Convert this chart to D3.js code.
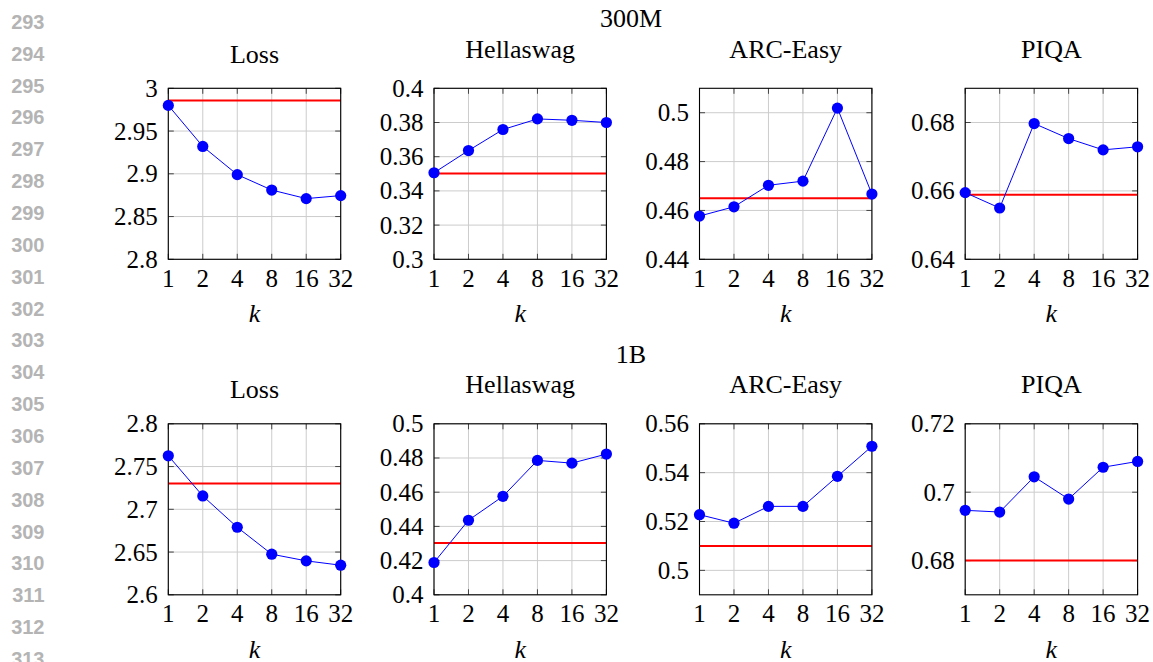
<!DOCTYPE html>
<html><head><meta charset="utf-8">
<script src="https://cdn.jsdelivr.net/npm/d3@7"></script>
<style>body{margin:0;background:#fff}svg{display:block}</style>
</head><body><svg id="c" width="1153" height="662"></svg>
<script>
// ---- data ----
const kValues = [1, 2, 4, 8, 16, 32];
const kLabels = ["1", "2", "4", "8", "16", "32"];
const rowTitles = ["300M", "1B"];
const panelTitles = ["Loss", "Hellaswag", "ARC-Easy", "PIQA"];
const lineNumbers = ["293","294","295","296","297","298","299","300","301","302","303","304","305","306","307","308","309","310","311","312","313"];

// 300M
const loss300M = [2.980, 2.932, 2.899, 2.881, 2.871, 2.8745];
const hella300M = [0.3506, 0.3636, 0.3759, 0.3821, 0.3813, 0.3800];
const arc300M = [0.4577, 0.4615, 0.4703, 0.4720, 0.5019, 0.4667];
const piqa300M = [0.6595, 0.6550, 0.6797, 0.6753, 0.6720, 0.6729];
const baseline300M = [2.9856, 0.3502, 0.4650, 0.6589];
// 1B
const loss1B = [2.7626, 2.7156, 2.6790, 2.6475, 2.6397, 2.6346];
const hella1B = [0.4189, 0.4436, 0.4576, 0.4786, 0.4770, 0.4823];
const arc1B = [0.5228, 0.5193, 0.5262, 0.5262, 0.5385, 0.5508];
const piqa1B = [0.6947, 0.6942, 0.7045, 0.6980, 0.7073, 0.7090];
const baseline1B = [2.7303, 0.4303, 0.5100, 0.6800];

// axis ranges and ticks
const domains300M = [[2.8, 3.0], [0.3, 0.4], [0.44, 0.51], [0.64, 0.69]];
const domains1B = [[2.6, 2.8], [0.4, 0.5], [0.49, 0.56], [0.67, 0.72]];
const ticks300M = [
  [2.8, 2.85, 2.9, 2.95, 3.0],
  [0.3, 0.32, 0.34, 0.36, 0.38, 0.4],
  [0.44, 0.46, 0.48, 0.5],
  [0.64, 0.66, 0.68]
];
const tickLabels300M = [
  ["2.8", "2.85", "2.9", "2.95", "3"],
  ["0.3", "0.32", "0.34", "0.36", "0.38", "0.4"],
  ["0.44", "0.46", "0.48", "0.5"],
  ["0.64", "0.66", "0.68"]
];
const ticks1B = [
  [2.6, 2.65, 2.7, 2.75, 2.8],
  [0.4, 0.42, 0.44, 0.46, 0.48, 0.5],
  [0.5, 0.52, 0.54, 0.56],
  [0.68, 0.7, 0.72]
];
const tickLabels1B = [
  ["2.6", "2.65", "2.7", "2.75", "2.8"],
  ["0.4", "0.42", "0.44", "0.46", "0.48", "0.5"],
  ["0.5", "0.52", "0.54", "0.56"],
  ["0.68", "0.7", "0.72"]
];

const rows = [
  {title: rowTitles[0], series: [loss300M, hella300M, arc300M, piqa300M], base: baseline300M, domains: domains300M, ticks: ticks300M, labels: tickLabels300M},
  {title: rowTitles[1], series: [loss1B, hella1B, arc1B, piqa1B], base: baseline1B, domains: domains1B, ticks: ticks1B, labels: tickLabels1B}
];

// ---- layout ----
const svg = d3.select("#c");
const panelX = [168.3, 434.0, 699.5, 965.2];
const panelW = 172.4, panelH = 171;
const rowY = [88.3, 423.8];
const serif = "'Liberation Serif','Times New Roman',serif";
const titleHasDesc = [false, true, true, true];

// line numbers
const lnY = d3.scaleLinear().domain([0, 20]).range([21.7, 658.7]);
svg.append("g").selectAll("text").data(lineNumbers).join("text")
  .attr("x", 44.5).attr("y", (d, i) => lnY(i)).attr("dy", "0.36em")
  .attr("text-anchor", "end")
  .style("font-family", "'Liberation Sans',Arial,sans-serif")
  .style("font-weight", "bold").style("font-size", "20px")
  .style("fill", "#b4b4b4").text(d => d);

rows.forEach((row, ri) => {
  const top = rowY[ri];
  svg.append("text").attr("x", 631).attr("y", top - 61)
    .attr("text-anchor", "middle").style("font-family", serif).style("font-size", "26px")
    .text(row.title);

  row.series.forEach((vals, pi) => {
    const x0 = panelX[pi];
    const g = svg.append("g").attr("transform", `translate(${x0},${top})`);
    const x = d3.scaleLog().base(2).domain([1, 32]).range([0, panelW]);
    const y = d3.scaleLinear().domain(row.domains[pi]).range([panelH, 0]);
    const yt = row.ticks[pi];

    // grid
    g.append("g").selectAll("line").data(kValues).join("line")
      .attr("x1", d => x(d)).attr("x2", d => x(d)).attr("y1", 0).attr("y2", panelH)
      .attr("stroke", "#cccccc").attr("stroke-width", 1);
    g.append("g").selectAll("line").data(yt).join("line")
      .attr("x1", 0).attr("x2", panelW).attr("y1", d => y(d)).attr("y2", d => y(d))
      .attr("stroke", "#cccccc").attr("stroke-width", 1);

    // inner tick marks
    const tl = 5.5;
    const tk = g.append("g").attr("stroke", "#444").attr("stroke-width", 1);
    kValues.forEach(d => {
      tk.append("line").attr("x1", x(d)).attr("x2", x(d)).attr("y1", panelH).attr("y2", panelH - tl);
      tk.append("line").attr("x1", x(d)).attr("x2", x(d)).attr("y1", 0).attr("y2", tl);
    });
    yt.forEach(d => {
      tk.append("line").attr("x1", 0).attr("x2", tl).attr("y1", y(d)).attr("y2", y(d));
      tk.append("line").attr("x1", panelW).attr("x2", panelW - tl).attr("y1", y(d)).attr("y2", y(d));
    });

    // baseline (red)
    g.append("line").attr("x1", 0).attr("x2", panelW)
      .attr("y1", y(row.base[pi])).attr("y2", y(row.base[pi]))
      .attr("stroke", "#ff0000").attr("stroke-width", 2);

    // frame
    g.append("rect").attr("x", 0).attr("y", 0).attr("width", panelW).attr("height", panelH)
      .attr("fill", "none").attr("stroke", "#000").attr("stroke-width", 1.1);

    // series line and markers
    const pts = kValues.map((k, i) => [k, vals[i]]);
    g.append("path").datum(pts)
      .attr("d", d3.line().x(d => x(d[0])).y(d => y(d[1])))
      .attr("fill", "none").attr("stroke", "#0000ff").attr("stroke-width", 1);
    g.append("g").selectAll("circle").data(pts).join("circle")
      .attr("cx", d => x(d[0])).attr("cy", d => y(d[1])).attr("r", 5.6)
      .attr("fill", "#0000ff");

    // y tick labels
    g.append("g").selectAll("text").data(yt).join("text")
      .attr("x", -10.5).attr("y", d => y(d)).attr("dy", "0.34em")
      .attr("text-anchor", "end").style("font-family", serif).style("font-size", "25px")
      .text((d, i) => row.labels[pi][i]);
    // x tick labels
    g.append("g").selectAll("text").data(kValues).join("text")
      .attr("x", d => x(d)).attr("y", panelH + 27.5)
      .attr("text-anchor", "middle").style("font-family", serif).style("font-size", "25px")
      .text((d, i) => kLabels[i]);
    // x axis label
    g.append("text").attr("x", panelW / 2).attr("y", panelH + 63)
      .attr("text-anchor", "middle").style("font-family", serif).style("font-style", "italic")
      .style("font-size", "26px").text("k");
    // title
    g.append("text").attr("x", panelW / 2).attr("y", titleHasDesc[pi] ? -30.5 : -25.5)
      .attr("text-anchor", "middle").style("font-family", serif).style("font-size", "26px")
      .text(panelTitles[pi]);
  });
});
</script></body></html>
